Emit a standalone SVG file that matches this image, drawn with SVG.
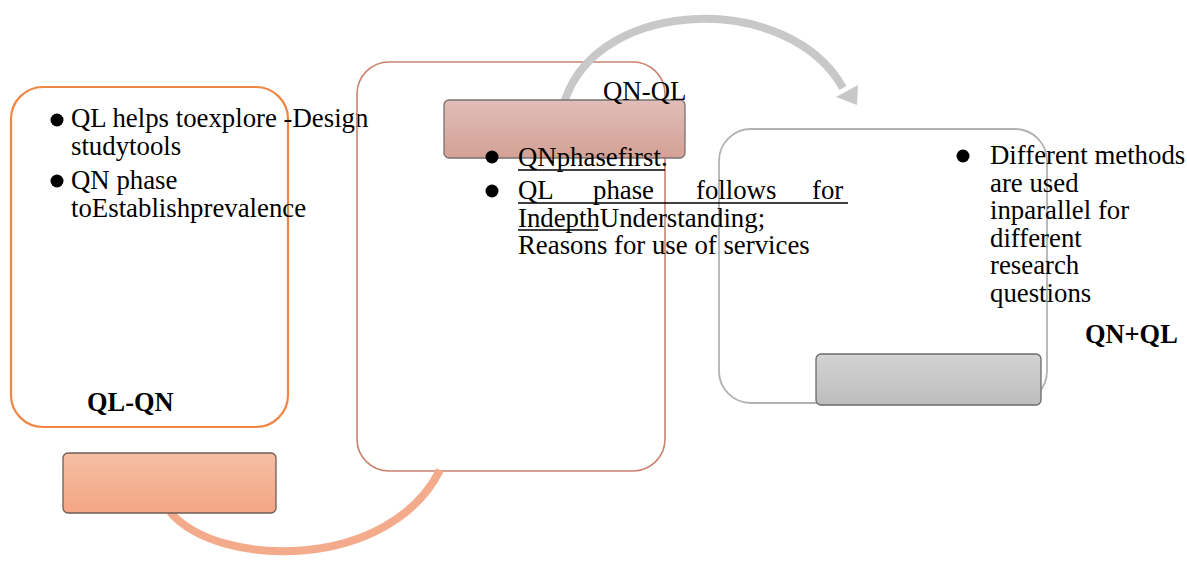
<svg xmlns="http://www.w3.org/2000/svg" width="1187" height="562" viewBox="0 0 1187 562">
  <style>
    .t { font-family: "Liberation Serif", "Times New Roman", serif; font-size: 26.8px; fill: #000; }
    .b { font-weight: bold; font-size: 26.4px; }
    .box { fill: none; }
    .u { stroke: #000; stroke-width: 1.6; }
  </style>
  <defs>
    <linearGradient id="g1" x1="0" y1="0" x2="0" y2="1">
      <stop offset="0" stop-color="#F6BEA4"/>
      <stop offset="1" stop-color="#F4A584"/>
    </linearGradient>
    <linearGradient id="g2" x1="0" y1="0" x2="0" y2="1">
      <stop offset="0" stop-color="#E0BEB8"/>
      <stop offset="1" stop-color="#D4A195"/>
    </linearGradient>
    <linearGradient id="g3" x1="0" y1="0" x2="0" y2="1">
      <stop offset="0" stop-color="#D3D3D3"/>
      <stop offset="1" stop-color="#BDBDBD"/>
    </linearGradient>
  </defs>

  <g id="node-ql-qn">
    <rect class="box" x="11" y="87" width="277" height="340" rx="32" ry="32" stroke="#EF8744" stroke-width="2.2"/>
    <circle cx="57" cy="120" r="6.5" fill="#000"/>
    <text class="t" x="71" y="127">QL helps toexplore -Design</text>
    <text class="t" x="71" y="155">studytools</text>
    <circle cx="57" cy="181" r="6.5" fill="#000"/>
    <text class="t" x="71" y="189">QN phase</text>
    <text class="t" x="71" y="216.5">toEstablishprevalence</text>
    <text class="t b" x="87" y="411">QL-QN</text>
  </g>

  <g id="node-qn-ql">
    <rect class="box" x="357" y="62" width="308" height="409" rx="32" ry="32" stroke="#C9836F" stroke-width="1.6"/>
  </g>

  <g id="node-qnqlpar">
    <rect class="box" x="719" y="129" width="328" height="274" rx="32" ry="32" stroke="#B2B2B2" stroke-width="1.8"/>
  </g>

  <g id="connectors">
    <path d="M170,512 C220,570 390,570 440,470" fill="none" stroke="#F4AB8B" stroke-width="8"/>
    <path d="M565,100 C600,-4 790,-8 843,88" fill="none" stroke="#C8C8C8" stroke-width="8"/>
    <polygon points="836,97 858,85 857,105" fill="#C8C8C8"/>
  </g>

  <g id="label-ql-qn">
    <rect x="63" y="453" width="213" height="60" rx="5" ry="5" fill="url(#g1)" stroke="#6E5E55" stroke-width="1.3"/>
  </g>

  <g id="label-qn-ql">
    <rect x="444" y="100" width="241" height="58" rx="5" ry="5" fill="url(#g2)" stroke="#7A7070" stroke-width="1.3"/>
    <text class="t" x="603" y="100">QN-QL</text>
    <circle cx="492" cy="157" r="6.5" fill="#000"/>
    <text class="t" x="518" y="166">QNphasefirst.</text>
    <line class="u" x1="518" y1="170" x2="665" y2="170"/>
    <circle cx="492" cy="191" r="6.5" fill="#000"/>
    <text class="t" x="518" y="199">QL</text>
    <text class="t" x="593" y="199">phase</text>
    <text class="t" x="696" y="199">follows</text>
    <text class="t" x="812" y="199">for</text>
    <line class="u" x1="518" y1="203" x2="848" y2="203"/>
    <text class="t" x="518" y="226.5">IndepthUnderstanding;</text>
    <line class="u" x1="518" y1="230" x2="598" y2="230"/>
    <text class="t" x="518" y="254">Reasons for use of services</text>
  </g>

  <g id="label-qnqlpar">
    <rect x="816" y="354" width="225" height="51" rx="5" ry="5" fill="url(#g3)" stroke="#6B6B6B" stroke-width="1.3"/>
    <circle cx="963" cy="156" r="6.5" fill="#000"/>
    <text class="t" x="990" y="164">Different methods</text>
    <text class="t" x="990" y="191.5">are used</text>
    <text class="t" x="990" y="219">inparallel for</text>
    <text class="t" x="990" y="246.5">different</text>
    <text class="t" x="990" y="274">research</text>
    <text class="t" x="990" y="301.5">questions</text>
    <text class="t b" x="1085" y="343">QN+QL</text>
  </g>
</svg>
